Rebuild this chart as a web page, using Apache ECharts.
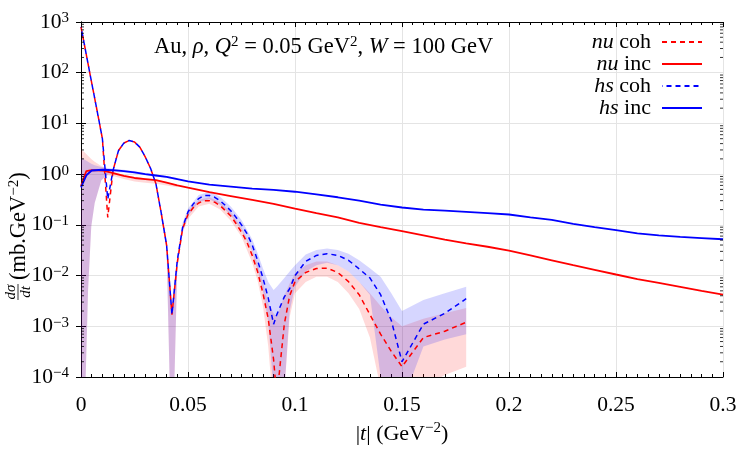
<!DOCTYPE html>
<html>
<head>
<meta charset="utf-8">
<script src="https://cdn.jsdelivr.net/npm/echarts/dist/echarts.min.js"></script>
<style>html,body{margin:0;background:#fff}#chart{width:750px;height:450px}</style>
</head>
<body>
<div id="chart"></div>
<script>
// |t| grid of the coherent curves (GeV^-2)
const tCoh = [0, 0.0025, 0.005, 0.0075, 0.01, 0.0125, 0.015, 0.0175, 0.02, 0.0225, 0.025, 0.0275, 0.03, 0.0325,
  0.035, 0.0375, 0.04, 0.0425, 0.045, 0.0475, 0.05, 0.0525, 0.055, 0.0575, 0.06, 0.0625, 0.065, 0.0675, 0.07,
  0.0725, 0.075, 0.0775, 0.08, 0.0825, 0.085, 0.0875, 0.09, 0.0915, 0.095, 0.0975, 0.1, 0.105, 0.11, 0.115,
  0.12, 0.125, 0.13, 0.135, 0.14, 0.145, 0.15, 0.16, 0.17, 0.18];
const nuCoh = [800, 225, 63, 18, 5.0, 0.14, 1.2, 2.9, 4.1, 4.6, 4.3, 3.4, 2.2, 1.3,
  0.65, 0.17, 0.04, 0.0017, 0.018, 0.085, 0.16, 0.22, 0.27, 0.3, 0.3, 0.28, 0.24, 0.19, 0.15,
  0.105, 0.072, 0.046, 0.025, 0.012, 0.0045, 0.0014, 0.00022, 0.00004, 0.0011, 0.004, 0.0076, 0.0115, 0.0138, 0.014,
  0.0115, 0.0076, 0.0042, 0.0017, 0.0007, 0.00032, 0.00016, 0.0006, 0.0008, 0.0012];
const hsCoh = [800, 225, 63, 18, 5.0, 0.32, 1.2, 2.9, 4.1, 4.6, 4.3, 3.4, 2.2, 1.3,
  0.65, 0.17, 0.04, 0.0017, 0.02, 0.09, 0.18, 0.26, 0.33, 0.38, 0.38, 0.35, 0.3, 0.24, 0.19,
  0.14, 0.1, 0.068, 0.04, 0.02, 0.009, 0.0036, 0.0011, 0.0017, 0.0038, 0.0055, 0.01, 0.019, 0.025, 0.027,
  0.025, 0.02, 0.0135, 0.009, 0.0042, 0.0013, 0.0002, 0.0011, 0.0018, 0.0035];

// incoherent curves
const tInc = [0, 0.0025, 0.005, 0.01, 0.015, 0.02, 0.025, 0.03, 0.035, 0.04, 0.045, 0.05, 0.06, 0.07, 0.08, 0.09,
  0.1, 0.11, 0.12, 0.13, 0.14, 0.15, 0.16, 0.17, 0.18, 0.19, 0.2, 0.21, 0.22, 0.23, 0.24, 0.25, 0.26, 0.27,
  0.28, 0.29, 0.3];
const nuInc = [0.58, 1.15, 1.2, 1.18, 1.05, 0.92, 0.84, 0.8, 0.76, 0.68, 0.6, 0.54, 0.44, 0.37, 0.31, 0.26,
  0.21, 0.17, 0.14, 0.11, 0.09, 0.075, 0.062, 0.051, 0.043, 0.037, 0.031, 0.025, 0.02, 0.016, 0.013, 0.0105,
  0.0085, 0.0072, 0.006, 0.005, 0.0042];
const hsInc = [0.55, 0.95, 1.18, 1.22, 1.2, 1.15, 1.08, 1.0, 0.94, 0.88, 0.8, 0.72, 0.62, 0.57, 0.52, 0.49,
  0.45, 0.4, 0.35, 0.3, 0.25, 0.22, 0.2, 0.19, 0.18, 0.17, 0.16, 0.14, 0.125, 0.105, 0.09, 0.079,
  0.068, 0.062, 0.058, 0.055, 0.052];

// uncertainty bands, incoherent (small t)
const tIncBand = [0, 0.002, 0.0033, 0.0048, 0.0064, 0.0095, 0.0125, 0.015, 0.02, 0.025, 0.03, 0.035, 0.04, 0.045];
const nuIncUpper = [3.1, 2.6, 2.3, 2.0, 1.75, 1.45, 1.25, 1.1, 0.97, 0.88, 0.83, 0.78, 0.7, 0.62];
const nuIncLower = [1e-6, 5e-5, 5e-3, 0.093, 0.27, 0.76, 0.95, 0.92, 0.8, 0.72, 0.68, 0.65, 0.6, 0.55];
const hsIncUpper = [2.1, 1.9, 1.75, 1.6, 1.5, 1.38, 1.32, 1.28, 1.22, 1.14, 1.05, 0.98, 0.92, 0.84];
const hsIncLower = [1e-6, 5e-5, 5e-3, 0.093, 0.27, 0.76, 1.0, 1.1, 1.08, 1.02, 0.95, 0.9, 0.84, 0.77];

// uncertainty bands, coherent
const tCohBand = [0.0375, 0.04, 0.0425, 0.045, 0.0475, 0.05, 0.055, 0.06, 0.065, 0.07, 0.075, 0.08, 0.0825,
  0.085, 0.0875, 0.09, 0.0915, 0.095, 0.0975, 0.1, 0.105, 0.11, 0.115, 0.12, 0.125, 0.13, 0.135, 0.14, 0.145,
  0.15, 0.16, 0.17, 0.18];
const nuCohUpper = [0.2, 0.047, 0.0025, 0.022, 0.1, 0.19, 0.31, 0.35, 0.28, 0.18, 0.088, 0.033, 0.017,
  0.0075, 0.0028, 0.0018, 0.0015, 0.004, 0.007, 0.011, 0.016, 0.019, 0.019, 0.016, 0.012, 0.0075, 0.0045, 0.0025, 0.0015,
  0.001, 0.0014, 0.0018, 0.0023];
const nuCohLower = [0.14, 0.032, 1e-6, 0.014, 0.07, 0.13, 0.23, 0.26, 0.2, 0.12, 0.058, 0.018, 0.008,
  0.0025, 4e-4, 2e-5, 1e-5, 5e-5, 0.0015, 0.0045, 0.0075, 0.0095, 0.0095, 0.0075, 0.0045, 0.0022, 6e-4, 6e-5, 2e-5,
  1e-5, 6e-5, 1.1e-4, 1.6e-4];
const hsCohUpper = [0.2, 0.048, 0.0028, 0.025, 0.11, 0.21, 0.39, 0.45, 0.36, 0.23, 0.125, 0.052, 0.028,
  0.014, 0.0075, 0.0052, 0.006, 0.009, 0.012, 0.016, 0.026, 0.032, 0.034, 0.032, 0.027, 0.02, 0.014, 0.0095, 0.0045,
  0.002, 0.0033, 0.0045, 0.006];
const hsCohLower = [0.14, 0.032, 1e-6, 0.015, 0.072, 0.15, 0.28, 0.32, 0.25, 0.155, 0.08, 0.03, 0.013,
  0.005, 0.0012, 5e-5, 3e-5, 5e-5, 0.002, 0.006, 0.012, 0.016, 0.018, 0.016, 0.012, 0.0075, 0.0042, 1e-4, 3e-5,
  3e-5, 4e-4, 5.5e-4, 7e-4];

const seriesNames = ['nu coh', 'nu inc', 'hs coh', 'hs inc'];

const SERIF = '"Liberation Serif", "DejaVu Serif", serif';
const RED = '#ff0000';
const BLUE = '#0000ff';

const zip = (xs, ys) => xs.map((x, i) => [x, ys[i]]);

// text styles: normal, italic, superscript
function richSet(size, supSize, lh, supLh) {
  return {
    r: { fontFamily: SERIF, fontSize: size, fontWeight: 'normal', color: '#000', lineHeight: lh, verticalAlign: 'bottom' },
    i: { fontFamily: SERIF, fontSize: size, fontWeight: 'normal', fontStyle: 'italic', color: '#000', lineHeight: lh, verticalAlign: 'bottom' },
    s: { fontFamily: SERIF, fontSize: supSize, fontWeight: 'normal', color: '#000', lineHeight: supLh, verticalAlign: 'top' }
  };
}

// band polygon drawn through the axes
function band(ts, lo, hi, color) {
  return {
    type: 'custom',
    silent: true,
    clip: true,
    z: 1,
    data: zip(ts, hi),
    renderItem(params, api) {
      if (params.dataIndex !== 0) return null;
      const pts = ts.map((t, i) => api.coord([t, hi[i]]));
      for (let i = ts.length - 1; i >= 0; i--) pts.push(api.coord([ts[i], lo[i]]));
      return { type: 'polygon', shape: { points: pts }, style: { fill: color } };
    }
  };
}

// log minor ticks on left and right frame
const logTicks = {
  type: 'custom',
  silent: true,
  z: 5,
  data: [[0.15, 1]],
  renderItem(params, api) {
    const children = [];
    for (let n = -4; n < 3; n++) {
      for (let k = 2; k < 10; k++) {
        const v = k * Math.pow(10, n);
        const l = api.coord([0, v]);
        const r = api.coord([0.3, v]);
        children.push({ type: 'line', shape: { x1: l[0], y1: l[1], x2: l[0] + 3, y2: l[1] }, style: { stroke: '#000', lineWidth: 0.8 } });
        children.push({ type: 'line', shape: { x1: r[0], y1: r[1], x2: r[0] - 3, y2: r[1] }, style: { stroke: '#000', lineWidth: 0.8 } });
      }
    }
    return { type: 'group', children };
  }
};

function expLabel(v) {
  const n = Math.round(Math.log10(v));
  return '{r|10}{s|' + (n < 0 ? '\u2212' + (-n) : n) + '}';
}

const chart = echarts.init(document.getElementById('chart'), null, { renderer: 'canvas' });

const option = {
  animation: false,
  backgroundColor: '#fff',
  grid: { left: 81, right: 27, top: 22, bottom: 66 },
  title: {
    left: 149, top: 30,
    text: '{r|Au, }{i|\u03c1}{r|, }{i|Q}{s|2}{r| = 0.05 GeV}{s|2}{r|, }{i|W}{r| = 100 GeV}',
    textStyle: { fontWeight: 'normal', rich: richSet(22.5, 15, 24, 8) }
  },
  legend: {
    data: seriesNames,
    orient: 'vertical',
    right: 42, top: 26,
    align: 'right',
    itemWidth: 40, itemHeight: 14, itemGap: 0,
    itemStyle: { opacity: 0 },
    formatter: name => {
      const p = name.split(' ');
      return '{i|' + p[0] + '}{r| ' + p[1] + '}';
    },
    textStyle: {
      lineHeight: 22,
      padding: [0, 6, 0, 0],
      rich: richSet(22, 15, 22, 8)
    }
  },
  xAxis: [{
    type: 'value', min: 0, max: 0.3, interval: 0.05,
    name: '{r||}{i|t}{r|| (GeV}{s|\u22122}{r|)}',
    nameLocation: 'middle', nameGap: 44,
    nameTextStyle: { rich: richSet(22, 15, 24, 8) },
    axisLine: { show: true, lineStyle: { color: '#000', width: 1 } },
    axisTick: { show: true, inside: true, length: 5, lineStyle: { color: '#000' } },
    minorTick: { show: true, splitNumber: 10, length: 3, lineStyle: { color: '#000' } },
    splitLine: { show: true, lineStyle: { color: '#e4e4e4', width: 1 } },
    axisLabel: {
      margin: 17, color: '#000', fontFamily: SERIF, fontSize: 21.5,
      formatter: v => (v === 0 ? '0' : String(+v.toFixed(2)))
    }
  }, {
    type: 'value', min: 0, max: 0.3, interval: 0.05, position: 'top',
    axisLine: { show: true, lineStyle: { color: '#000', width: 1 } },
    axisTick: { show: true, inside: true, length: 5, lineStyle: { color: '#000' } },
    minorTick: { show: true, splitNumber: 10, length: 3, lineStyle: { color: '#000' } },
    splitLine: { show: false },
    axisLabel: { show: false }
  }],
  yAxis: [{
    type: 'log', logBase: 10, min: 1e-4, max: 1e3, splitNumber: 7,
    axisLine: { show: true, lineStyle: { color: '#000', width: 1 } },
    axisTick: { show: true, inside: true, length: 5, lineStyle: { color: '#000' } },
    splitLine: { show: true, lineStyle: { color: '#e4e4e4', width: 1 } },
    axisLabel: { margin: 12, formatter: expLabel, rich: richSet(21.5, 15, 22, 8) }
  }, {
    type: 'log', logBase: 10, min: 1e-4, max: 1e3, splitNumber: 7, position: 'right',
    axisLine: { show: true, lineStyle: { color: '#000', width: 1 } },
    axisTick: { show: true, inside: true, length: 5, lineStyle: { color: '#000' } },
    splitLine: { show: false },
    axisLabel: { show: false }
  }],
  graphic: [{
    type: 'group',
    x: 18, y: 214,
    rotation: Math.PI / 2,
    children: [
      { type: 'text', x: -78, y: -7, style: { text: 'd\u03c3', font: 'italic 15px ' + SERIF, fill: '#000', align: 'center', verticalAlign: 'middle' } },
      { type: 'line', shape: { x1: -86, y1: 0, x2: -70, y2: 0 }, style: { stroke: '#000', lineWidth: 0.8 } },
      { type: 'text', x: -78, y: 8, style: { text: 'dt', font: 'italic 15px ' + SERIF, fill: '#000', align: 'center', verticalAlign: 'middle' } },
      {
        type: 'text', x: -66, y: 1,
        style: {
          text: '{r|(mb.GeV}{s|\u22122}{r|)}',
          align: 'left', verticalAlign: 'middle',
          rich: richSet(22.5, 15, 24, 8)
        }
      }
    ]
  }],
  series: [
    band(tIncBand, nuIncLower, nuIncUpper, 'rgba(255,0,0,0.15)'),
    band(tCohBand, nuCohLower, nuCohUpper, 'rgba(255,0,0,0.15)'),
    band(tIncBand, hsIncLower, hsIncUpper, 'rgba(0,0,255,0.16)'),
    band(tCohBand, hsCohLower, hsCohUpper, 'rgba(0,0,255,0.16)'),
    {
      name: 'nu coh', type: 'line', data: zip(tCoh, nuCoh), symbol: 'none', z: 3,
      color: RED, lineStyle: { color: RED, width: 1.5, type: [5, 4] }
    },
    {
      name: 'nu inc', type: 'line', data: zip(tInc, nuInc), symbol: 'none', z: 3,
      color: RED, lineStyle: { color: RED, width: 1.8 }
    },
    {
      name: 'hs coh', type: 'line', data: zip(tCoh, hsCoh), symbol: 'none', z: 3,
      color: BLUE, lineStyle: { color: BLUE, width: 1.5, type: [5, 4], dashOffset: 4.5 }
    },
    {
      name: 'hs inc', type: 'line', data: zip(tInc, hsInc), symbol: 'none', z: 3,
      color: BLUE, lineStyle: { color: BLUE, width: 1.8 }
    },
    logTicks
  ]
};

chart.setOption(option);
</script>
</body>
</html>
